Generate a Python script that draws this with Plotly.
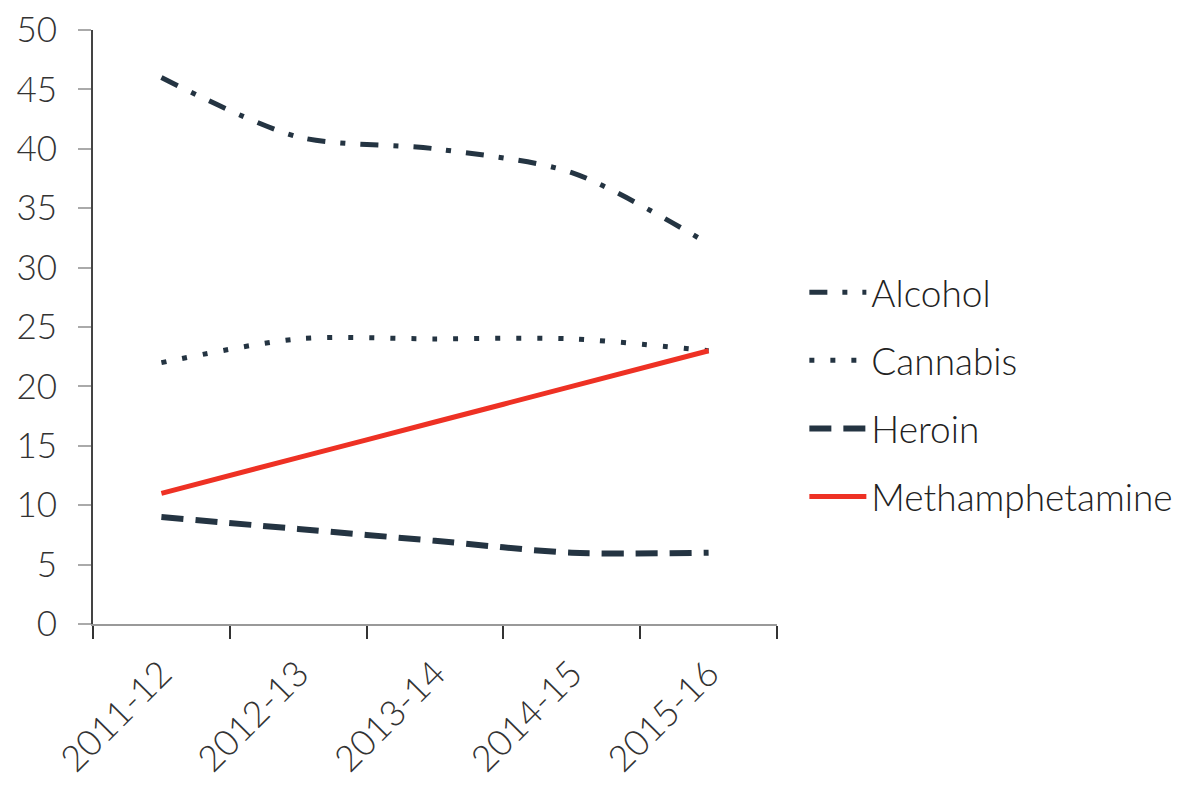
import plotly.graph_objects as go

years = ["2011-12", "2012-13", "2013-14", "2014-15", "2015-16"]
alcohol = [46, 41, 40, 38, 32]
cannabis = [22, 24, 24, 24, 23]
heroin = [9, 8, 7, 6, 6]
meth = [11, 14, 17, 20, 23]

navy = "#243442"
red = "#ee3124"
FONT = "Lato"

fig = go.Figure()
series = [
    ("Alcohol", alcohol, dict(color=navy, width=5, dash="18px,15px,5px,15px")),
    ("Cannabis", cannabis, dict(color=navy, width=5, dash="5px,16px")),
    ("Heroin", heroin, dict(color=navy, width=6, dash="22px,12px")),
    ("Methamphetamine", meth, dict(color=red, width=5)),
]
for i, (name, vals, ln) in enumerate(series):
    fig.add_trace(go.Scatter(
        x=years, y=vals, name=name, mode="lines",
        line=dict(shape="spline", smoothing=0.8, **ln),
        legendgroup=f"g{i}",
    ))

fig.update_layout(
    width=1192, height=786,
    margin=dict(l=85, r=423, t=22, b=170),
    paper_bgcolor="white", plot_bgcolor="white",
    font=dict(family=FONT, size=34, color="#333333", weight=300),
    showlegend=True,
    legend=dict(x=1.04, y=0.386, xanchor="left", yanchor="middle",
                font=dict(family=FONT, size=37, color="#222222", weight=300),
                tracegroupgap=17, itemwidth=57, bgcolor="rgba(0,0,0,0)"),
)
fig.update_xaxes(
    type="category", range=[-0.5, 4.5], tickson="boundaries",
    ticks="outside", ticklen=13, tickwidth=2, tickcolor="#333333",
    showline=True, linecolor="#999999", linewidth=2,
    showgrid=False, zeroline=False, tickangle=-45, automargin=False,
    ticklabeloverflow="allow", ticklabelstandoff=12,
    tickfont=dict(family=FONT, size=36, color="#333333", weight=300),
)
fig.update_yaxes(
    range=[0, 50], dtick=5, tick0=0,
    ticks="outside", ticklen=13, tickwidth=2, tickcolor="#aaaaaa",
    showline=True, linecolor="#444444", linewidth=2,
    showgrid=False, zeroline=False, automargin=False, ticklabelstandoff=14,
    ticklabeloverflow="allow",
    tickfont=dict(family=FONT, size=35, color="#333333", weight=300),
)
fig.write_html("out.html")
